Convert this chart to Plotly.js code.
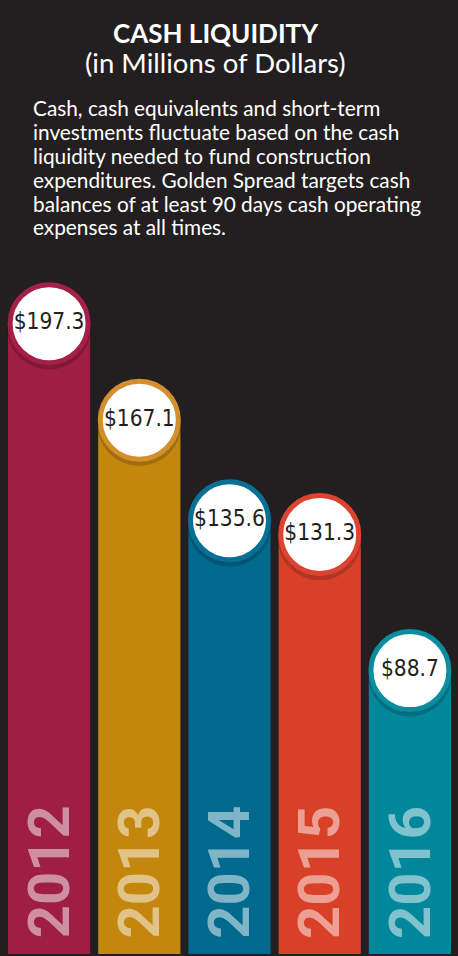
<!DOCTYPE html>
<html>
<head>
<meta charset="utf-8">
<script src="https://cdn.plot.ly/plotly-3.0.1.min.js"></script>
<style>html,body{margin:0;padding:0;background:#231f20;}#chart{width:458px;height:956px;}</style>
</head>
<body>
<div id="chart"></div>
<script>
// ---- data ----
const years = ['2012', '2013', '2014', '2015', '2016'];
const cash = [197.3, 167.1, 135.6, 131.3, 88.7];
const valueLabels = ['$197.3', '$167.1', '$135.6', '$131.3', '$88.7'];
const barColors = ['#9e1e44', '#c4870e', '#006a8e', '#d84128', '#00879c'];
const ringColors = ['#a52048', '#d48f2d', '#0a6f94', '#dc4431', '#0a8d9f'];
const paragraph = [
  'Cash, cash equivalents and short-term',
  'investments fluctuate based on the cash',
  'liquidity needed to fund construction',
  'expenditures. Golden Spread targets cash',
  'balances of at least 90 days cash operating',
  'expenses at all times.'
];

const W = 458, H = 956;
const mT = 0, mB = 2;
const plotH = H - mT - mB;
const yMax = 298.6;
const pxToPaper = py => (H - mB - py) / plotH;

const traces = [
  {
    type: 'bar', x: years, y: cash,
    marker: {color: barColors, line: {width: 0}},
    hoverinfo: 'skip'
  },
  {
    type: 'scatter', mode: 'markers', x: years,
    y: cash.map(v => v - 1.2),
    marker: {size: 84, color: 'rgba(0,0,0,0.18)', line: {width: 0}},
    cliponaxis: false, hoverinfo: 'skip'
  },
  {
    type: 'scatter', mode: 'markers+text', x: years, y: cash,
    text: valueLabels, textposition: 'middle center',
    textfont: {family: '"DejaVu Sans Condensed", Roboto, sans-serif', size: 22.5, color: '#231f20'},
    marker: {size: 78, color: '#ffffff', line: {width: 5, color: ringColors}},
    cliponaxis: false, hoverinfo: 'skip'
  }
];

const annotations = [];
annotations.push({
  xref: 'paper', yref: 'paper', x: 0.47, y: pxToPaper(33),
  xanchor: 'center', yanchor: 'middle', showarrow: false,
  text: '<b>CASH LIQUIDITY</b>',
  font: {family: 'Lato, sans-serif', size: 26, color: '#ffffff'}
});
annotations.push({
  xref: 'paper', yref: 'paper', x: 0.47, y: pxToPaper(62),
  xanchor: 'center', yanchor: 'middle', showarrow: false,
  text: '(in Millions of Dollars)',
  font: {family: 'Lato, sans-serif', size: 27.5, color: '#ffffff'}
});
paragraph.forEach((line, i) => {
  annotations.push({
    xref: 'paper', yref: 'paper', x: (31 - 4) / 451, y: pxToPaper(108 + i * 23.8),
    xanchor: 'left', yanchor: 'middle', showarrow: false, align: 'left',
    text: line,
    font: {family: 'Lato, sans-serif', size: 20.8, color: '#ffffff'}
  });
});
years.forEach((yr, i) => {
  annotations.push({
    xref: 'x', yref: 'y', x: i, y: 25.6,
    xanchor: 'center', yanchor: 'middle', showarrow: false,
    textangle: -90, text: '<b>' + yr + '</b>',
    font: {family: 'Roboto, sans-serif', size: 58, color: 'rgba(255,255,255,0.5)'}
  });
});

const layout = {
  width: W, height: H,
  margin: {l: 4, r: 3, t: mT, b: mB, pad: 0},
  paper_bgcolor: '#231f20', plot_bgcolor: '#231f20',
  showlegend: false,
  bargap: 0.089,
  xaxis: {type: 'category', range: [-0.5, 4.5], showgrid: false, zeroline: false, showticklabels: false, showline: false, fixedrange: true},
  yaxis: {range: [0, yMax], showgrid: false, zeroline: false, showticklabels: false, showline: false, fixedrange: true},
  annotations: annotations
};

Plotly.newPlot('chart', traces, layout, {displayModeBar: false, staticPlot: true});
</script>
</body>
</html>
